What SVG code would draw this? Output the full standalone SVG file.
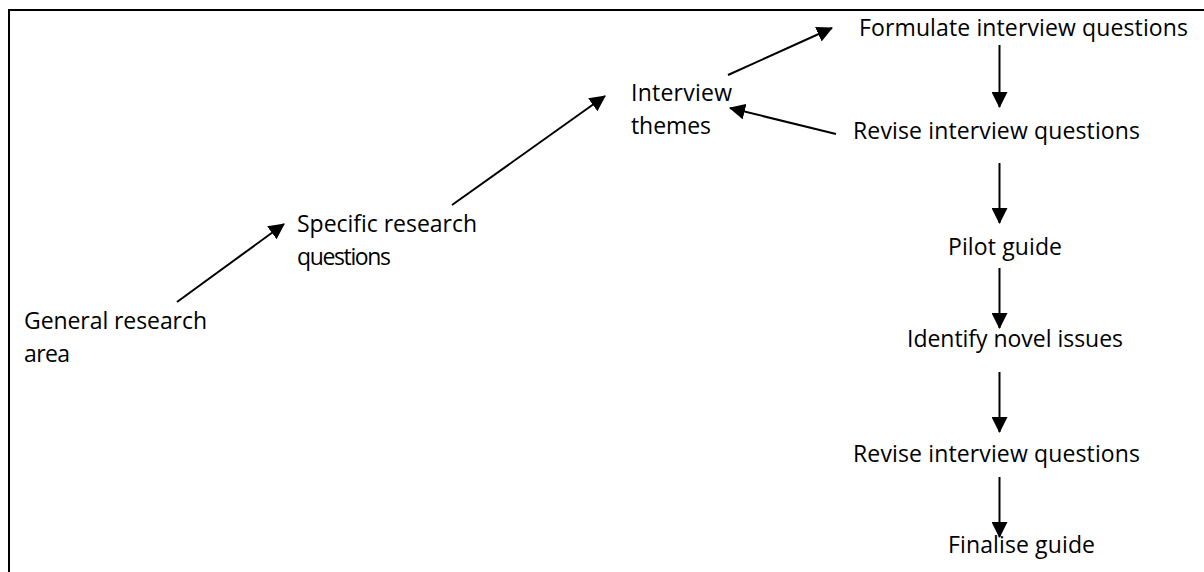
<svg xmlns="http://www.w3.org/2000/svg" width="1204" height="572" viewBox="0 0 1204 572">
  <style>
    .lbl { font-family: "Open Sans", "Liberation Sans", sans-serif; font-size: 23px; fill: #000; }
    .conn { stroke: #000; stroke-width: 2; fill: none; }
  </style>
  <defs>
    <marker id="arr" markerUnits="userSpaceOnUse" markerWidth="17" markerHeight="16" refX="15" refY="8" orient="auto">
      <path d="M0,0 L16,8 L0,16 z" fill="#000"/>
    </marker>
  </defs>
  <rect width="1204" height="572" fill="#fff"/>
  <path d="M9,572 V10 H1204" stroke="#000" stroke-width="2" fill="none"/>

  <g id="connectors">
    <line class="conn" x1="177" y1="302" x2="284" y2="224" marker-end="url(#arr)"/>
    <line class="conn" x1="452" y1="205" x2="605" y2="96" marker-end="url(#arr)"/>
    <line class="conn" x1="728" y1="75" x2="832" y2="28" marker-end="url(#arr)"/>
    <line class="conn" x1="836" y1="134" x2="730" y2="108" marker-end="url(#arr)"/>
    <line class="conn" x1="999.5" y1="45" x2="999.5" y2="107" marker-end="url(#arr)"/>
    <line class="conn" x1="999.5" y1="163" x2="999.5" y2="223" marker-end="url(#arr)"/>
    <line class="conn" x1="999.5" y1="268" x2="999.5" y2="328" marker-end="url(#arr)"/>
    <line class="conn" x1="999.5" y1="372" x2="999.5" y2="432" marker-end="url(#arr)"/>
    <line class="conn" x1="999.5" y1="477" x2="999.5" y2="537" marker-end="url(#arr)"/>
  </g>

  <g id="general">
    <text class="lbl" x="24" y="329" textLength="183">General research</text>
    <text class="lbl" x="24" y="362" textLength="46">area</text>
  </g>
  <g id="specific">
    <text class="lbl" x="297" y="232" textLength="180">Specific research</text>
    <text class="lbl" x="297" y="265" textLength="94">questions</text>
  </g>
  <g id="themes">
    <text class="lbl" x="631" y="101" textLength="101">Interview</text>
    <text class="lbl" x="631" y="134" textLength="80">themes</text>
  </g>
  <g id="formulate">
    <text class="lbl" x="859" y="36" textLength="329">Formulate interview questions</text>
  </g>
  <g id="revise1">
    <text class="lbl" x="853" y="139" textLength="287">Revise interview questions</text>
  </g>
  <g id="pilot">
    <text class="lbl" x="948" y="255" textLength="114">Pilot guide</text>
  </g>
  <g id="identify">
    <text class="lbl" x="907" y="347" textLength="216">Identify novel issues</text>
  </g>
  <g id="revise2">
    <text class="lbl" x="853" y="462" textLength="287">Revise interview questions</text>
  </g>
  <g id="finalise">
    <text class="lbl" x="948" y="553" textLength="147">Finalise guide</text>
  </g>
</svg>
